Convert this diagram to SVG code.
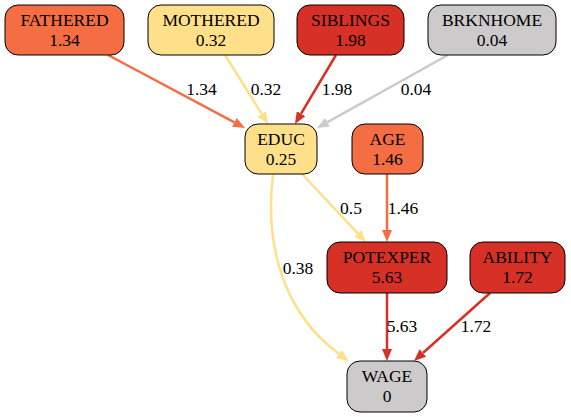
<svg xmlns="http://www.w3.org/2000/svg" width="571" height="417" viewBox="0 0 571 417">
<style>
.n rect{stroke:#000;stroke-width:1}
.t{font-family:"Liberation Serif",serif;font-size:17.5px;text-anchor:middle;fill:#000}
.e{fill:none;stroke-width:2.5}
.o{stroke:#f46d43}.y{stroke:#fee08b}.r{stroke:#d73027}.g{stroke:#cccaca}
</style>
<defs>
<marker id="ao" markerUnits="userSpaceOnUse" markerWidth="12" markerHeight="10" refX="0" refY="5" orient="auto"><path d="M0,0L12,5L0,10z" fill="#f46d43"/></marker>
<marker id="ay" markerUnits="userSpaceOnUse" markerWidth="12" markerHeight="10" refX="0" refY="5" orient="auto"><path d="M0,0L12,5L0,10z" fill="#fee08b"/></marker>
<marker id="ar" markerUnits="userSpaceOnUse" markerWidth="12" markerHeight="10" refX="0" refY="5" orient="auto"><path d="M0,0L12,5L0,10z" fill="#d73027"/></marker>
<marker id="ag" markerUnits="userSpaceOnUse" markerWidth="12" markerHeight="10" refX="0" refY="5" orient="auto"><path d="M0,0L12,5L0,10z" fill="#cccaca"/></marker>
</defs>
<rect width="571" height="417" fill="#fff"/>
<g id="connectors">
<path class="e o" d="M108,55L234.4,122.4" marker-end="url(#ao)"/>
<path class="e y" d="M225,55L261.7,113.8" marker-end="url(#ay)"/>
<path class="e r" d="M336,55L301.1,113.7" marker-end="url(#ar)"/>
<path class="e g" d="M448,55L327.5,122.2" marker-end="url(#ag)"/>
<path class="e y" d="M302,174L357.8,233.3" marker-end="url(#ay)"/>
<path class="e o" d="M387,174L387,230" marker-end="url(#ao)"/>
<path class="e y" d="M273,174C265,240 280,310 339,354" marker-end="url(#ay)"/>
<path class="e r" d="M387,293L387,349" marker-end="url(#ar)"/>
<path class="e r" d="M490,293L422.9,353" marker-end="url(#ar)"/>
<text class="t" x="201.5" y="95">1.34</text>
<text class="t" x="266" y="95">0.32</text>
<text class="t" x="337" y="95">1.98</text>
<text class="t" x="416" y="95">0.04</text>
<text class="t" x="351" y="214">0.5</text>
<text class="t" x="403" y="214">1.46</text>
<text class="t" x="298" y="274">0.38</text>
<text class="t" x="402" y="332">5.63</text>
<text class="t" x="476" y="332">1.72</text>
</g>
<g id="FATHERED" class="n"><rect x="5" y="5" width="119" height="50" rx="13" fill="#f46d43"/><text class="t" x="64.5" y="26">FATHERED</text><text class="t" x="64.5" y="46">1.34</text></g>
<g id="MOTHERED" class="n"><rect x="148" y="5" width="126" height="50" rx="13" fill="#fee08b"/><text class="t" x="211" y="26">MOTHERED</text><text class="t" x="211" y="46">0.32</text></g>
<g id="SIBLINGS" class="n"><rect x="297" y="5" width="107" height="50" rx="13" fill="#d73027"/><text class="t" x="350.5" y="26">SIBLINGS</text><text class="t" x="350.5" y="46">1.98</text></g>
<g id="BRKNHOME" class="n"><rect x="428" y="5" width="128" height="50" rx="13" fill="#cccaca"/><text class="t" x="492" y="26">BRKNHOME</text><text class="t" x="492" y="46">0.04</text></g>
<g id="EDUC" class="n"><rect x="245" y="124" width="72" height="50" rx="13" fill="#fee08b"/><text class="t" x="281" y="145">EDUC</text><text class="t" x="281" y="165">0.25</text></g>
<g id="AGE" class="n"><rect x="352" y="124" width="71" height="50" rx="13" fill="#f46d43"/><text class="t" x="387.5" y="145">AGE</text><text class="t" x="387.5" y="165">1.46</text></g>
<g id="POTEXPER" class="n"><rect x="327" y="242" width="120" height="51" rx="13" fill="#d73027"/><text class="t" x="387" y="263">POTEXPER</text><text class="t" x="387" y="283">5.63</text></g>
<g id="ABILITY" class="n"><rect x="470" y="242" width="95" height="51" rx="13" fill="#d73027"/><text class="t" x="517.5" y="263">ABILITY</text><text class="t" x="517.5" y="283">1.72</text></g>
<g id="WAGE" class="n"><rect x="347" y="361" width="80" height="51" rx="13" fill="#cccaca"/><text class="t" x="387" y="382">WAGE</text><text class="t" x="387" y="402">0</text></g>
</svg>
